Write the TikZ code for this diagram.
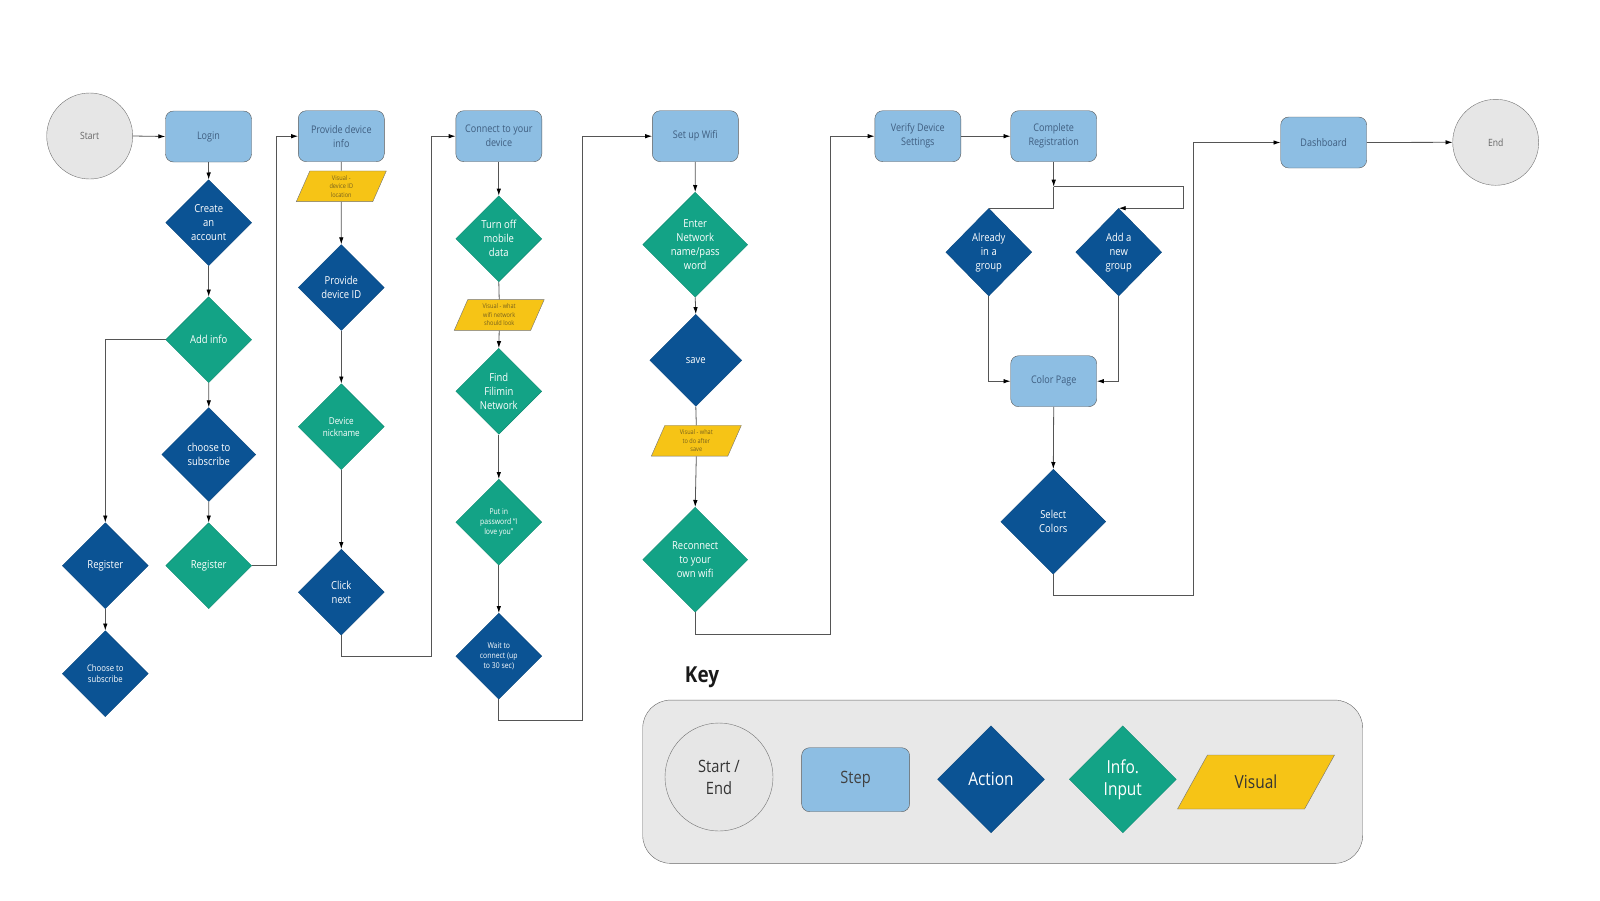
\documentclass[tikz,border=0pt]{standalone}
\usepackage{fontspec}
\setmainfont[FakeStretch=0.86]{Open Sans}
\usetikzlibrary{shapes.geometric, arrows.meta}

\definecolor{stepblue}{HTML}{8DBEE3}
\definecolor{actblue}{HTML}{0B5394}
\definecolor{infogreen}{HTML}{13A386}
\definecolor{visyellow}{HTML}{F6C416}
\definecolor{endgray}{HTML}{E6E6E6}
\definecolor{keygray}{HTML}{E8E8E8}
\definecolor{steptext}{HTML}{3F5E80}
\definecolor{vistext}{HTML}{76601E}
\definecolor{linegray}{HTML}{555555}

\begin{document}
\begin{tikzpicture}[x=1pt, y=-1pt,
    terminal/.style={circle, draw=black!55, fill=endgray, minimum size=86pt, inner sep=0pt, align=center, text=black!60, font=\fontsize{10}{13}\selectfont},
    stepbox/.style={rectangle, rounded corners=8pt, draw=black!65, fill=stepblue, minimum width=86pt, minimum height=51pt, align=center, text=steptext, font=\fontsize{10.5}{14}\selectfont},
    action/.style={diamond, aspect=1, draw=actblue!85!black, fill=actblue, minimum size=86pt, inner sep=0pt, align=center, text=white, font=\fontsize{11}{14}\selectfont},
    info/.style={action, draw=infogreen!85!black, fill=infogreen},
    visual/.style={trapezium, trapezium left angle=65, trapezium right angle=115, trapezium stretches body, draw=black!55, fill=visyellow, minimum width=90pt, minimum height=30.7pt, inner xsep=0pt, inner ysep=3.5pt, align=center, text=vistext, font=\fontsize{6.5}{8.5}\selectfont},
    flow/.style={draw=linegray, line width=0.8pt, -{Latex[length=7pt, width=4.5pt, color=black]}},
    link/.style={draw=linegray, line width=0.8pt}]
    \useasboundingbox (0,0) rectangle (1600,900);

    % Login column
    \node[terminal] (start) at (89.7,136) {Start};
    \node[stepbox] (login) at (208.5,136.5) {Login};
    \node[action] (create) at (208.7,222.7) {Create\\an\\account};
    \node[info] (addinfo) at (208.7,339.7) {Add info};
    \node[action, minimum size=94pt] (choose) at (208.8,454.5) {choose to\\subscribe};
    \node[info] (regg) at (208.7,565.7) {Register};
    \node[action] (regb) at (105.3,565.7) {Register};
    \node[action, font=\fontsize{9}{11.5}\selectfont] (choosesub) at (105.3,673.7) {Choose to\\subscribe};

    % Device column
    \node[stepbox] (devinfo) at (341.3,136.2) {Provide device\\info};
    \node[visual] (visid) at (341.3,186.3) {Visual -\\device ID\\location};
    \node[action] (devid) at (341.3,287.5) {Provide\\device ID};
    \node[info, font=\fontsize{9.5}{12}\selectfont] (nick) at (341.3,426.7) {Device\\nickname};
    \node[action] (next) at (341.3,592.2) {Click\\next};

    % Connect column
    \node[stepbox] (connect) at (498.8,136.2) {Connect to your\\device};
    \node[info] (mobile) at (498.8,238.8) {Turn off\\mobile\\data};
    \node[visual] (viswifi) at (499.2,315) {Visual - what\\wifi network\\should look};
    \node[info] (find) at (498.8,391.3) {Find\\Filimin\\Network};
    \node[info, font=\fontsize{8}{10}\selectfont] (password) at (498.8,522.2) {Put in\\password ``I\\love you''};
    \node[action, font=\fontsize{8}{10}\selectfont] (wait) at (498.8,656.2) {Wait to\\connect (up\\to 30 sec)};

    % Wifi column
    \node[stepbox] (wifi) at (695.3,136.2) {Set up Wifi};
    \node[info, minimum size=105pt] (network) at (695.2,244.7) {Enter\\Network\\name/pass\\word};
    \node[action, minimum size=92pt] (save) at (695.8,360.3) {save};
    \node[visual] (vissave) at (696.3,440.8) {Visual - what\\to do after\\save};
    \node[info, minimum size=105pt] (reconnect) at (695.2,559.7) {Reconnect\\to your\\own wifi};

    % Registration and groups
    \node[stepbox] (verify) at (917.8,136.2) {Verify Device\\Settings};
    \node[stepbox] (complete) at (1053.7,136.2) {Complete\\Registration};
    \coordinate (split) at (1053.7,186.7);
    \node[action, minimum height=87.6pt] (ingroup) at (988.8,252.2) {Already\\in a\\group};
    \node[action, minimum height=87.6pt] (newgroup) at (1118.7,252.2) {Add a\\new\\group};
    \node[stepbox] (colors) at (1053.7,381.2) {Color Page};
    \node[action, minimum size=105pt] (select) at (1053.3,521.7) {Select\\Colors};
    \node[stepbox] (dash) at (1323.7,142.5) {Dashboard};
    \node[terminal] (end) at (1495.7,142.3) {End};

    % Arrows of the login column
    \draw[flow] (start.east) -- (login.west);
    \draw[flow] (login.south) -- (create.north);
    \draw[flow] (create.south) -- (addinfo.north);
    \draw[flow] (addinfo.south) -- (choose.north);
    \draw[flow] (choose.south) -- (regg.north);
    \draw[flow] (addinfo.west) -| (regb.north);
    \draw[flow] (regb.south) -- (choosesub.north);
    \draw[flow] (regg.east) -| ([xshift=-22pt]devinfo.west) -- (devinfo.west);

    % Arrows of the device column
    \draw[link] (devinfo.south) -- (visid.north);
    \draw[flow] (visid.south) -- (devid.north);
    \draw[flow] (devid.south) -- (nick.north);
    \draw[flow] (nick.south) -- (next.north);
    \draw[flow] (next.south) -- ++(0,21) -| ([xshift=-24.3pt]connect.west) -- (connect.west);

    % Arrows of the connect column
    \draw[flow] (connect.south) -- (mobile.north);
    \draw[link] (mobile.south) -- (viswifi.north);
    \draw[flow] (viswifi.south) -- (find.north);
    \draw[flow] (find.south) -- (password.north);
    \draw[flow] (password.south) -- (wait.north);
    \draw[flow] (wait.south) -- ++(0,21) -| ([xshift=-69.6pt]wifi.west) -- (wifi.west);

    % Arrows of the wifi column
    \draw[flow] (wifi.south) -- (network.north);
    \draw[flow] (network.south) -- (save.north);
    \draw[link] (save.south) -- (vissave.north);
    \draw[flow] (vissave.south) -- (reconnect.north);
    \draw[flow] (reconnect.south) -- ++(0,22) -| ([xshift=-44.3pt]verify.west) -- (verify.west);

    % Arrows of the registration
    \draw[flow] (verify.east) -- (complete.west);
    \draw[flow] (complete.south) -- (split);
    \draw[link] (split) |- (ingroup.north);
    \draw[flow] (split) -- ++(129.6,0) |- (newgroup.north);
    \draw[flow] (ingroup.south) |- (colors.west);
    \draw[flow] (newgroup.south) |- (colors.east);
    \draw[flow] (colors.south) -- (select.north);
    \draw[flow] (select.south) -- ++(0,21) -| ([xshift=-87.4pt]dash.west) -- (dash.west);
    \draw[flow] (dash.east) -- (end.west);

    % Key
    \node[font=\bfseries\fontsize{22}{26}\selectfont, text=black!90] (keytitle) at (702,677) {Key};
    \node[draw=black!60, fill=keygray, rounded corners=28pt, minimum width=720pt, minimum height=163.3pt] (keybox) at (1002.7,781.7) {};
    \node[terminal, minimum size=108pt, text=black!80, font=\fontsize{17}{22}\selectfont] (keyend) at (719,777) {Start /\\End};
    \node[stepbox, minimum width=108pt, minimum height=64pt, text=black!75, font=\fontsize{17}{22}\selectfont] (keystep) at (855.6,779.7) {Step};
    \node[action, minimum size=107pt, font=\fontsize{18}{22}\selectfont] (keyaction) at (991,779.3) {Action};
    \node[info, minimum size=107pt, font=\fontsize{18}{22}\selectfont] (keyinfo) at (1122.8,779.3) {Info.\\Input};
    \node[visual, trapezium left angle=61, trapezium right angle=119, minimum width=157pt, minimum height=54pt, text height=13pt, text depth=0pt, inner ysep=20.5pt, text=black!80, font=\fontsize{18}{22}\selectfont] (keyvisual) at (1256,782) {Visual};
\end{tikzpicture}
\end{document}
